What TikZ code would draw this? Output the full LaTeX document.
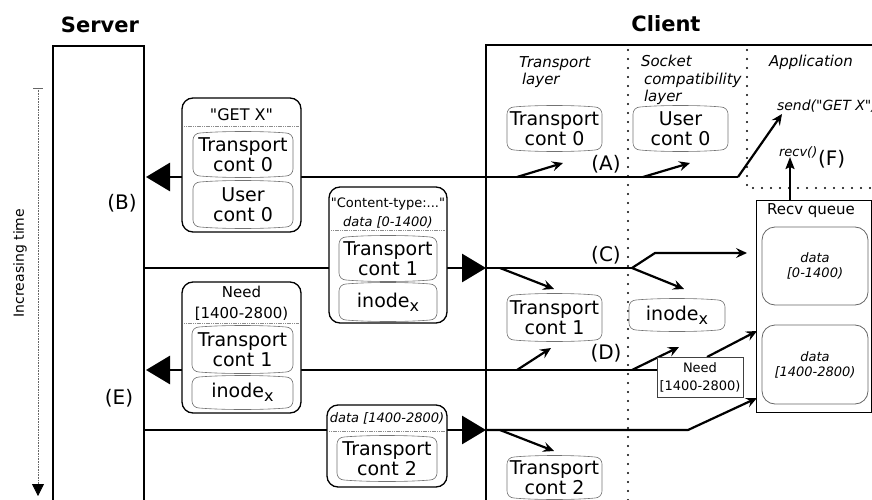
\documentclass[tikz,border=0pt]{standalone}
\usepackage{fontspec}
\setmainfont{DejaVu Sans}[Ligatures=TeXOff]
\usetikzlibrary{arrows.meta,calc}
\begin{document}
\begin{tikzpicture}[x=1pt,y=-1pt,
  every node/.style={inner sep=0pt, outer sep=0pt},
  fa/.style={font=\fontsize{13}{15}\selectfont},
  fb/.style={font=\fontsize{14}{16}\selectfont},
  fc/.style={font=\fontsize{15}{17.5}\selectfont},
  lbl/.style={font=\fontsize{20}{20}\selectfont},
  ttl/.style={font=\fontsize{21}{21}\selectfont\bfseries},
  layer/.style={font=\fontsize{15}{17.5}\selectfont\itshape, align=left, anchor=west},
  % context record: rounded box whose top and bottom edges bow outwards slightly
  ctx/.style={align=center, font=\fontsize{19}{20}\selectfont,
    append after command={\pgfextra{
      \draw[draw=black!55, line width=0.6pt]
        ($(\tikzlastnode.north west)+(0,7)$)
          to[out=90,in=180] ($(\tikzlastnode.north west)+(7,0)$)
          .. controls ($(\tikzlastnode.north)+(-20,-2)$) and ($(\tikzlastnode.north)+(20,-2)$)
          .. ($(\tikzlastnode.north east)+(-7,0)$)
          to[out=0,in=90] ($(\tikzlastnode.north east)+(0,7)$)
          -- ($(\tikzlastnode.south east)+(0,-7)$)
          to[out=-90,in=0] ($(\tikzlastnode.south east)+(-7,0)$)
          .. controls ($(\tikzlastnode.south)+(20,2)$) and ($(\tikzlastnode.south)+(-20,2)$)
          .. ($(\tikzlastnode.south west)+(7,0)$)
          to[out=180,in=-90] ($(\tikzlastnode.south west)+(0,-7)$)
          -- cycle;
    }}},
  msgbox/.style={draw=black, line width=1.3pt, rounded corners=11pt, fill=white},
  databox/.style={draw=black!60, line width=0.8pt, rounded corners=13pt, fill=white,
    align=center, font=\fontsize{13}{15}\selectfont\itshape},
  sep/.style={draw=black!45, line width=0.5pt, dash pattern=on 1.2pt off 0.6pt},
  msg/.style={line width=2.8pt},
  big/.style={-{Triangle[length=24pt,width=28pt]}},
  sarrow/.style={line width=2.2pt, -{Stealth[length=11pt,width=10pt,inset=4pt]}},
  dots/.style={line width=2.2pt, line cap=round, dash pattern=on 0pt off 9pt},
  frame/.style={line width=1.4pt}
]
\useasboundingbox (0,0) rectangle (872,500);

% column titles and frames
\node[ttl] (srv) at (100,25) {Server};
\node[ttl] (cli) at (666,24) {Client};
\draw[frame] (53,505) -- (53,46) -- (144,46) -- (144,505);
\draw[frame] (486,505) -- (486,45) -- (880,45);

% layer separators
\draw[dots] (628,50) -- (628,500);
\draw[dots] (747,50) -- (747,188) -- (872,188);

% time axis
\coordinate (t0) at (38,88);
\coordinate (t1) at (38,496);
\draw[line width=0.8pt, black!60] (33,88) -- (43,88);
\draw[line width=0.8pt, black!60, dash pattern=on 1pt off 0.6pt,
      -{Triangle[length=12pt,width=12pt,black]}] (t0) -- (t1);
\node[rotate=90, fb] (inc) at (20,263) {Increasing time};

% layer headings
\node[layer] (ltr) at (519,72) {Transport\\\hspace{3pt}layer};
\node[layer] (lsk) at (641,80) {Socket\\\hspace{3pt}compatibility\\\hspace{3pt}layer};
\node[layer] (lap) at (769,62) {Application};

% connector end points
\coordinate (s1) at (146,177);
\coordinate (b1) at (738,177);
\coordinate (sendpt) at (782,114);
\coordinate (a1s) at (517,177);  \coordinate (a1e) at (563,163);
\coordinate (a2s) at (643,177);  \coordinate (a2e) at (690,163);

\coordinate (s2) at (144,268);
\coordinate (c2tip) at (486,268);
\coordinate (c2fork) at (632,268);
\coordinate (c2up) at (655,253);
\coordinate (c2end) at (747,253);
\coordinate (c1s) at (500,268); \coordinate (c1e) at (554,289);
\coordinate (c3e) at (684,289);

\coordinate (s3) at (146,370);
\coordinate (n3) at (657,370);
\coordinate (d1s) at (517,370); \coordinate (d1e) at (551,348);
\coordinate (d2s) at (632,370); \coordinate (d2e) at (679,347);
\coordinate (dns) at (707,357); \coordinate (dne) at (757,331);

\coordinate (s4) at (144,430);
\coordinate (e4tip) at (486,430);
\coordinate (e4bend) at (688,430);
\coordinate (e4end) at (757,398);
\coordinate (e1s) at (500,430); \coordinate (e1e) at (554,451);

\coordinate (rqup) at (790,200);
\coordinate (rqtip) at (790,157);

% GET X request
\draw[msg, big] (b1) -- (s1);
\draw[sarrow] (b1) -- (sendpt);
\draw[sarrow] (a1s) -- (a1e);
\draw[sarrow] (a2s) -- (a2e);

% first data segment
\draw[msg, big] (s2) -- (c2tip);
\draw[msg] (c2tip) -- (c2fork);
\draw[sarrow] (c2fork) -- (c2up) -- (c2end);
\draw[sarrow] (c2fork) -- (c3e);
\draw[sarrow] (c1s) -- (c1e);

% retransmission request
\draw[msg, big] (n3) -- (s3);
\draw[sarrow] (d1s) -- (d1e);
\draw[sarrow] (d2s) -- (d2e);
\draw[sarrow] (dns) -- (dne);

% second data segment
\draw[msg, big] (s4) -- (e4tip);
\draw[sarrow] (e4tip) -- (e4bend) -- (e4end);
\draw[sarrow] (e1s) -- (e1e);

% receive queue
\node[draw, line width=1pt, minimum width=115pt, minimum height=212pt] (rq) at (813.5,306) {};
\node[fc, anchor=west] (rqt) at (767,211) {Recv queue};
\node[databox, minimum width=106pt, minimum height=78pt] (dq1) at (815,266) {data\\{[}0-1400)};
\node[databox, minimum width=106pt, minimum height=79pt] (dq2) at (815,364.5) {data\\{[}1400-2800)};
\draw[line width=2pt, -{Stealth[length=12pt,width=9pt,inset=2pt]}] (rqup) -- (rqtip);
\node[font=\fontsize{13}{15}\selectfont\itshape, anchor=base west] (rcv) at (779,156) {recv()};
\node[lbl, anchor=base west] (lf) at (818,165) {(F)};
\node[font=\fontsize{14}{16}\selectfont\itshape, anchor=base west] (snd) at (777,111) {send("GET X")};

% message: "GET X"
\node[msgbox, minimum width=119pt, minimum height=134pt] (m1) at (241.5,165) {};
\node[font=\fontsize{16}{18}\selectfont] (m1h) at (241.5,115) {"GET X"};
\draw[sep] (184,126) -- (299,126);
\node[ctx, minimum width=100pt, minimum height=43pt] (m1a) at (243,154.5) {Transport\\cont 0};
\node[ctx, minimum width=100pt, minimum height=45pt] (m1b) at (243,204.5) {User\\cont 0};

% message: first data segment
\node[msgbox, minimum width=118pt, minimum height=136pt] (m2) at (388,255) {};
\node[font=\fontsize{13}{19}\selectfont, align=center] (m2h) at (388,213) {"Content-type:..."\\\itshape data {[}0-1400)};
\draw[sep] (331,230) -- (445,230);
\node[ctx, minimum width=98pt, minimum height=43pt] (m2a) at (388,258.5) {Transport\\cont 1};
\node[ctx, minimum width=98pt, minimum height=36pt] (m2b) at (388,302) {inode\raisebox{-0.4ex}{\fontsize{16}{16}\selectfont x}};

% message: retransmission request
\node[msgbox, minimum width=119pt, minimum height=131pt] (m3) at (241.5,347.5) {};
\node[font=\fontsize{15}{21}\selectfont, align=center] (m3h) at (241.5,303) {Need\\{[}1400-2800)};
\draw[sep] (184,323) -- (299,323);
\node[ctx, minimum width=101pt, minimum height=45pt] (m3a) at (242.5,349.5) {Transport\\cont 1};
\node[ctx, minimum width=101pt, minimum height=31pt] (m3b) at (242.5,392.5) {inode\raisebox{-0.4ex}{\fontsize{16}{16}\selectfont x}};

% message: second data segment
\node[msgbox, minimum width=120pt, minimum height=82pt] (m4) at (387,446) {};
\node[font=\fontsize{13}{15}\selectfont\itshape] (m4h) at (387,418) {data {[}1400-2800)};
\draw[sep] (329,431) -- (445,431);
\node[ctx, minimum width=100pt, minimum height=43pt] (m4a) at (387,458.5) {Transport\\cont 2};

% client-side state
\node[ctx, minimum width=95pt, minimum height=43pt] (tc0) at (554.5,128.5) {Transport\\cont 0};
\node[ctx, minimum width=95pt, minimum height=43pt] (uc0) at (680.5,128.5) {User\\cont 0};
\node[ctx, minimum width=95pt, minimum height=45pt] (tc1) at (554.5,317.5) {Transport\\cont 1};
\node[ctx, minimum width=96pt, minimum height=30pt] (ix1) at (677,315) {inode\raisebox{-0.4ex}{\fontsize{16}{16}\selectfont x}};
\node[ctx, minimum width=95pt, minimum height=41pt] (tc2) at (554.5,477.5) {Transport\\cont 2};
\node[draw=black!75, line width=0.8pt, fill=white, minimum width=86pt, minimum height=40pt,
      align=center, font=\fontsize{13}{18}\selectfont] (needc) at (700,377) {Need\\{[}1400-2800)};

% event labels
\node[lbl] (la) at (606,164) {(A)};
\node[lbl] (lc) at (606,255) {(C)};
\node[lbl] (ld) at (606,353) {(D)};
\node[lbl] (lb) at (122,203) {(B)};
\node[lbl] (le) at (119,398) {(E)};
\end{tikzpicture}
\end{document}
